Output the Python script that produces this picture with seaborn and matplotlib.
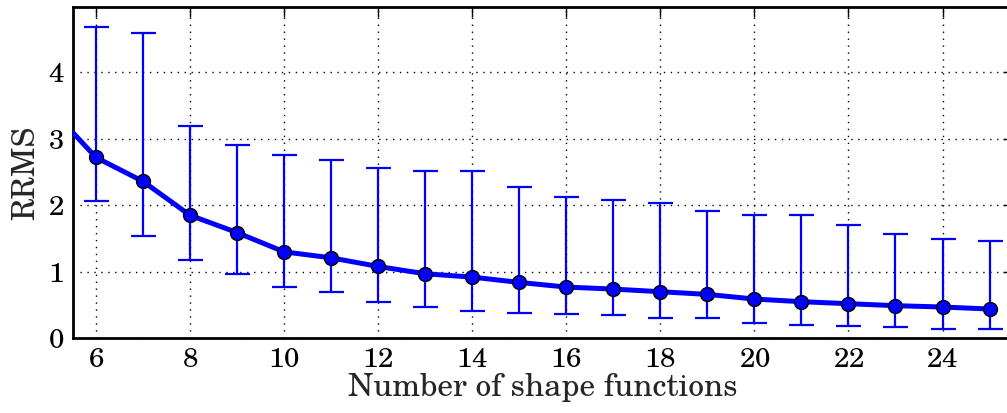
import matplotlib
matplotlib.use("Agg")
import matplotlib.pyplot as plt
import seaborn as sns
import numpy as np
import pandas as pd
from matplotlib import font_manager

# data
n_shape = [5, 6, 7, 8, 9, 10, 11, 12, 13, 14, 15, 16, 17, 18, 19, 20, 21, 22, 23, 24, 25]
rrms = [3.48, 2.72, 2.36, 1.85, 1.59, 1.30, 1.21, 1.08, 0.97, 0.92, 0.84, 0.77, 0.74,
        0.70, 0.66, 0.59, 0.55, 0.52, 0.49, 0.47, 0.44]
upper = [5.10, 4.68, 4.59, 3.19, 2.91, 2.75, 2.68, 2.56, 2.52, 2.51, 2.28, 2.12, 2.08,
         2.03, 1.91, 1.86, 1.85, 1.71, 1.57, 1.50, 1.47]
lower = [2.60, 2.06, 1.54, 1.17, 0.97, 0.77, 0.69, 0.55, 0.47, 0.41, 0.38, 0.36, 0.35,
         0.30, 0.30, 0.235, 0.205, 0.19, 0.17, 0.145, 0.135]
xticks = [6, 8, 10, 12, 14, 16, 18, 20, 22, 24]
yticks = [0, 1, 2, 3, 4]

df = pd.DataFrame({"n": n_shape, "rrms": rrms})

sns.set_style("white")
available = {f.name for f in font_manager.fontManager.ttflist}
families = [f for f in ["TeX Gyre Schola", "C059", "Century Schoolbook L",
                        "Century Schoolbook"] if f in available]
use_schola = bool(families)
plt.rcParams["font.family"] = families + ["cmr10", "DejaVu Serif"]
plt.rcParams["axes.formatter.use_mathtext"] = True
plt.rcParams["mathtext.fontset"] = "cm"

tick_fs = 20 if use_schola else 21
label_fs = 22.5 if use_schola else 24

fig = plt.figure(figsize=(10.07, 4.13), dpi=100)
ax = fig.add_axes([0.072, 0.181, 0.934, 0.803])

yerr = [np.array(rrms) - np.array(lower), np.array(upper) - np.array(rrms)]
ax.errorbar(n_shape, rrms, yerr=yerr, fmt="none", ecolor="#0000ff",
            elinewidth=1.6, capsize=9, capthick=1.6, zorder=2)
sns.lineplot(data=df, x="n", y="rrms", ax=ax, color="#0000ff", linewidth=3.6,
             marker="o", markersize=10, markerfacecolor="#0000ff",
             markeredgecolor="black", markeredgewidth=1.0, zorder=3)

ax.set_xlim(5.5, 25.5)
ax.set_ylim(0, 4.99)
ax.set_xticks(xticks)
ax.set_yticks(yticks)
ax.grid(True, color="black", linestyle=(0, (1, 4)), linewidth=1.0)
ax.set_axisbelow(True)
for s in ax.spines.values():
    s.set_color("black")
    s.set_linewidth(2.0)
ax.tick_params(direction="in", length=7, width=1.0, top=True, right=True,
               labelsize=tick_fs, colors="black", pad=6)
ax.set_xlabel("Number of shape functions", fontsize=label_fs, labelpad=1)
ax.set_ylabel("RRMS", fontsize=label_fs, labelpad=5)

fig.savefig("out.png", dpi=100)
